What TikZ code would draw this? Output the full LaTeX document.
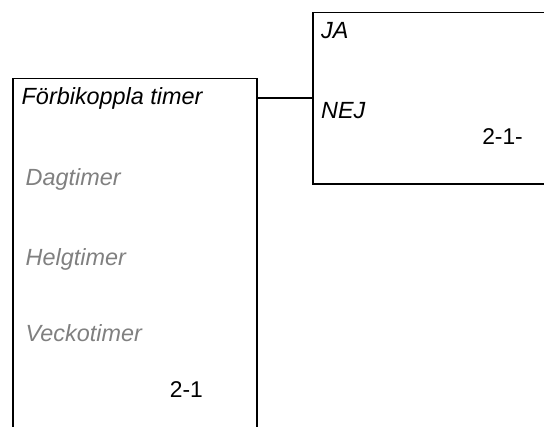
\documentclass[tikz,border=0pt]{standalone}
\usepackage{fontspec}
\setmainfont{Liberation Sans}
\begin{document}
\begin{tikzpicture}[x=1pt,y=-1pt,
  box/.style={draw=black,line width=1.8pt,rectangle,inner sep=0pt,anchor=north west},
  lbl/.style={anchor=base west,inner sep=0pt,font=\fontsize{23.4}{28}\selectfont\itshape},
  dim/.style={lbl,text=greytext},
  num/.style={anchor=base east,inner sep=0pt,font=\fontsize{22.8}{27}\selectfont},
  wire/.style={draw=black,line width=1.8pt}]
\definecolor{greytext}{RGB}{128,128,128}
\useasboundingbox (0,0) rectangle (544,427);
\clip (0,0) rectangle (544,427);
\node[box,minimum width=243.4pt,minimum height=400pt] (lbox) at (12.3,77.7) {};
\node[box,minimum width=260pt,minimum height=171.3pt] (rbox) at (311.7,11.7) {};
\coordinate (c) at (0,98);
\draw[wire] (lbox.east |- c) -- (rbox.west |- c);
\node[lbl] (t1) at (21.5,105) {Förbikoppla timer};
\node[dim] (t2) at (25.5,186) {Dagtimer};
\node[dim] (t3) at (25.5,266) {Helgtimer};
\node[dim] (t4) at (25.5,341.5) {Veckotimer};
\node[num] (n1) at (203,398) {2-1};
\node[lbl] (ja) at (321,39) {JA};
\node[lbl] (nej) at (321,119) {NEJ};
\node[num] (n2) at (523,145) {2-1-};
\end{tikzpicture}
\end{document}
